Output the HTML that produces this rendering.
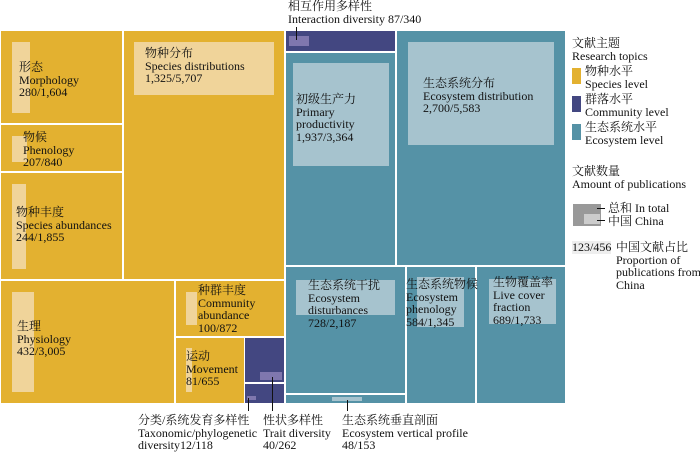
<!DOCTYPE html><html><head><meta charset="utf-8"><style>
body{margin:0;width:700px;height:453px;background:#fff;position:relative;overflow:hidden;font-family:"Liberation Serif","Noto Serif CJK SC",serif;font-size:12px;line-height:12.7px;color:#111}
div{position:absolute}
.y{background:#E3B130}.n{background:#434781}.t{background:#5592A6}
.ly{background:#F0D49A}.ln{background:#7F77AE}.lt{background:#A6C3CE}
.x{white-space:nowrap}
.k{background:#111;width:1px}
</style></head><body>
<div class="y" style="left:1px;top:31px;width:121px;height:92px"></div>
<div class="ly" style="left:12px;top:42px;width:18px;height:71px"></div>
<div class="y" style="left:1px;top:125px;width:121px;height:46px"></div>
<div class="ly" style="left:12px;top:136px;width:15px;height:26px"></div>
<div class="y" style="left:1px;top:173px;width:121px;height:106px"></div>
<div class="ly" style="left:12px;top:184px;width:14px;height:85px"></div>
<div class="y" style="left:124px;top:31px;width:160px;height:248px"></div>
<div class="ly" style="left:134px;top:42px;width:140px;height:53px"></div>
<div class="y" style="left:1px;top:281px;width:173px;height:122px"></div>
<div class="ly" style="left:12px;top:292px;width:22px;height:100px"></div>
<div class="y" style="left:176px;top:281px;width:108px;height:55px"></div>
<div class="ly" style="left:186px;top:292px;width:11px;height:33px"></div>
<div class="y" style="left:176px;top:338px;width:68px;height:65px"></div>
<div class="ly" style="left:186px;top:348px;width:6px;height:44px"></div>
<div class="n" style="left:286px;top:31px;width:109px;height:20px"></div>
<div class="ln" style="left:289px;top:36px;width:20px;height:10px"></div>
<div class="n" style="left:245px;top:338px;width:39px;height:44px"></div>
<div class="ln" style="left:260px;top:372px;width:22px;height:8px"></div>
<div class="n" style="left:245px;top:384px;width:39px;height:19px"></div>
<div class="ln" style="left:247px;top:396px;width:9px;height:4px"></div>
<div class="t" style="left:286px;top:53px;width:109px;height:212px"></div>
<div class="lt" style="left:293px;top:63px;width:96px;height:103px"></div>
<div class="t" style="left:397px;top:31px;width:168px;height:234px"></div>
<div class="lt" style="left:408px;top:42px;width:146px;height:103px"></div>
<div class="t" style="left:286px;top:267px;width:119px;height:126px"></div>
<div class="lt" style="left:296px;top:280px;width:99px;height:35px"></div>
<div class="t" style="left:286px;top:395px;width:119px;height:8px"></div>
<div class="lt" style="left:332px;top:397px;width:30px;height:4px"></div>
<div class="t" style="left:407px;top:267px;width:68px;height:136px"></div>
<div class="lt" style="left:417px;top:277px;width:47px;height:50px"></div>
<div class="t" style="left:477px;top:267px;width:88px;height:136px"></div>
<div class="lt" style="left:489px;top:279px;width:67px;height:45px"></div>

<div class="x" style="left:19px;top:61px">形态<br>Morphology<br>280/1,604</div>
<div class="x" style="left:23px;top:131px">物候<br>Phenology<br>207/840</div>
<div class="x" style="left:16px;top:206px">物种丰度<br>Species abundances<br>244/1,855</div>
<div class="x" style="left:145px;top:47px">物种分布<br>Species distributions<br>1,325/5,707</div>
<div class="x" style="left:17px;top:320px">生理<br>Physiology<br>432/3,005</div>
<div class="x" style="left:198px;top:284px">种群丰度<br>Community<br>abundance<br>100/872</div>
<div class="x" style="left:186px;top:350px">运动<br>Movement<br>81/655</div>
<div class="x" style="left:296px;top:93px">初级生产力<br>Primary<br>productivity<br>1,937/3,364</div>
<div class="x" style="left:423px;top:77px">生态系统分布<br>Ecosystem distribution<br>2,700/5,583</div>
<div class="x" style="left:308px;top:279px">生态系统干扰<br>Ecosystem<br>disturbances<br>728/2,187</div>
<div class="x" style="left:406px;top:278px">生态系统物候<br>Ecosystem<br>phenology<br>584/1,345</div>
<div class="x" style="left:493px;top:276px">生物覆盖率<br>Live cover<br>fraction<br>689/1,733</div>

<div class="x" style="left:288px;top:0px">相互作用多样性<br>Interaction diversity 87/340</div>
<div class="k" style="left:296px;top:27px;height:13px"></div>
<div class="x" style="left:138px;top:414px">分类/系统发育多样性<br>Taxonomic/phylogenetic<br>diversity12/118</div>
<div class="k" style="left:248px;top:398px;height:13px"></div>
<div class="x" style="left:263px;top:414px">性状多样性<br>Trait diversity<br>40/262</div>
<div class="k" style="left:272px;top:377px;height:34px"></div>
<div class="x" style="left:342px;top:414px">生态系统垂直剖面<br>Ecosystem vertical profile<br>48/153</div>
<div class="k" style="left:347px;top:400px;height:11px"></div>

<div class="x" style="left:572px;top:37px">文献主题<br>Research topics</div>
<div class="y" style="left:572px;top:68px;width:9px;height:16px"></div>
<div class="x" style="left:585px;top:65px">物种水平<br>Species level</div>
<div class="n" style="left:572px;top:96px;width:9px;height:16px"></div>
<div class="x" style="left:585px;top:93px">群落水平<br>Community level</div>
<div class="t" style="left:572px;top:124px;width:9px;height:16px"></div>
<div class="x" style="left:585px;top:121px">生态系统水平<br>Ecosystem level</div>
<div class="x" style="left:572px;top:165px">文献数量<br>Amount of publications</div>
<div style="left:573px;top:204px;width:28px;height:22px;background:#999"></div>
<div style="left:584px;top:214px;width:16px;height:10px;background:#ccc"></div>
<div style="left:597px;top:208px;width:8px;height:1px;background:#111"></div>
<div style="left:597px;top:220px;width:8px;height:1px;background:#111"></div>
<div class="x" style="left:608px;top:202px">总和 In total<br>中国 China</div>
<div class="x" style="left:572px;top:241px;background:#eee">123/456</div>
<div class="x" style="left:616px;top:241px">中国文献占比<br>Proportion of<br>publications from<br>China</div>
</body></html>
